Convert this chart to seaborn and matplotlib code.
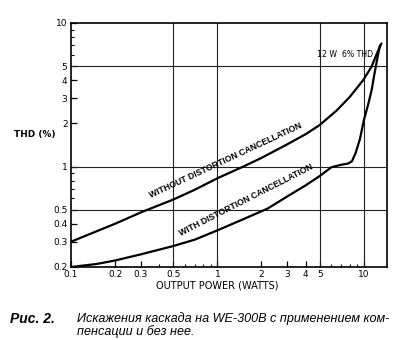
import matplotlib
matplotlib.use("Agg")
import matplotlib.pyplot as plt
import seaborn as sns
import pandas as pd

# ---- data ----
without_x = [0.1, 0.15, 0.2, 0.3, 0.5, 0.7, 1.0, 1.5, 2.0, 3.0, 4.0, 5.0, 6.5, 8.0, 9.9, 11.3, 12.5, 13.2]
without_y = [0.30, 0.355, 0.40, 0.48, 0.59, 0.69, 0.83, 1.0, 1.15, 1.43, 1.68, 1.95, 2.45, 3.05, 4.0, 4.97, 6.4, 7.2]

with_x = [0.1, 0.15, 0.2, 0.3, 0.5, 0.7, 1.0, 1.5, 2.2, 3.0, 4.0, 5.0, 6.0, 7.0, 7.8, 8.3, 8.8,
          9.4, 10.0, 10.7, 11.3, 11.9, 12.5, 12.9]
with_y = [0.20, 0.21, 0.222, 0.245, 0.28, 0.31, 0.36, 0.43, 0.51, 0.62, 0.74, 0.86, 0.99, 1.03, 1.05,
          1.09, 1.25, 1.55, 2.1, 2.7, 3.4, 4.6, 6.0, 7.0]

x_major = [0.1, 0.2, 0.3, 0.5, 1, 2, 3, 4, 5, 10]
x_major_labels = ["0.1", "0.2", "0.3", "0.5", "1", "2", "3", "4", "5", "10"]
x_minor = [0.4, 0.6, 0.7, 0.8, 0.9, 6, 7, 8, 9]
y_major = [0.2, 0.3, 0.4, 0.5, 1, 2, 3, 4, 5, 10]
y_major_labels = ["0.2", "0.3", "0.4", "0.5", "1", "2", "3", "4", "5", "10"]
y_minor = [0.6, 0.7, 0.8, 0.9, 6, 7, 8, 9]
grid_x = [0.5, 1, 5, 10]
grid_y = [0.5, 1, 5]

label_without = "WITHOUT DISTORTION CANCELLATION"
label_with = "WITH DISTORTION CANCELLATION"
note_text = "12 W  6% THD"
x_title = "OUTPUT POWER (WATTS)"
y_title = "THD (%)"
caption_bold = "Рис. 2."
caption_lines = ["Искажения каскада на WE-300B с применением ком-", "пенсации и без нее."]

sns.set_theme(style="white")
plt.rcParams["font.family"] = ["DejaVu Sans"]

df_without = pd.DataFrame({"x": without_x, "y": without_y})
df_with = pd.DataFrame({"x": with_x, "y": with_y})

fig = plt.figure(figsize=(4.0, 3.4), dpi=100)
ax = fig.add_axes([71 / 400, 1 - 267 / 340, 316 / 400, 244 / 340])
ax.set_xscale("log")
ax.set_yscale("log")
ax.set_xlim(0.1, 14.4)
ax.set_ylim(0.2, 10)

for gx in grid_x:
    ax.axvline(gx, color="#222222", lw=0.8, zorder=1)
for gy in grid_y:
    ax.axhline(gy, color="#222222", lw=0.8, zorder=1)

sns.lineplot(data=df_without, x="x", y="y", ax=ax, color="black", lw=1.6, sort=False, zorder=3)
sns.lineplot(data=df_with, x="x", y="y", ax=ax, color="black", lw=1.6, sort=False, zorder=3)

ax.set_xticks(x_major)
ax.set_xticklabels(x_major_labels)
ax.set_xticks(x_minor, minor=True)
ax.set_xticklabels([], minor=True)
ax.set_yticks(y_major)
ax.set_yticklabels(y_major_labels)
ax.set_yticks(y_minor, minor=True)
ax.set_yticklabels([], minor=True)
ax.tick_params(which="major", direction="in", length=4, width=0.9, color="black",
               labelsize=6.5, labelcolor="black")
ax.tick_params(axis="x", which="major", pad=2.5)
ax.tick_params(axis="y", which="major", pad=2.5)
ax.tick_params(which="minor", direction="in", length=2.5, width=0.8, color="black")
ax.tick_params(axis="both", which="both", bottom=True, left=True, top=False, right=False)
for s in ax.spines.values():
    s.set_color("black")
    s.set_linewidth(1.2)
ax.set_xlabel("")
ax.set_ylabel("")

ax.text(1.14, 1.11, label_without, rotation=25, ha="center", va="center",
        fontsize=6.2, fontweight="bold", family=["Liberation Sans"], color="black",
        rotation_mode="anchor", zorder=4)
ax.text(1.57, 0.586, label_with, rotation=27, ha="center", va="center",
        fontsize=6.2, fontweight="bold", family=["Liberation Sans"], color="black",
        rotation_mode="anchor", zorder=4)
ax.text(4.8, 6.0, note_text, ha="left", va="center", fontsize=5.6, color="black", zorder=4)

fig.text(217.5 / 400, 1 - 286 / 340, x_title, ha="center", va="center", fontsize=7, color="black")
fig.text(14 / 400, 1 - 135 / 340, y_title, ha="left", va="center", fontsize=6.4,
         fontweight="bold", color="black")

fig.text(10 / 400, 1 - 319 / 340, caption_bold, ha="left", va="center", fontsize=10,
         fontweight="bold", style="italic", family=["Liberation Sans"], color="black")
fig.text(77 / 400, 1 - 319 / 340, caption_lines[0], ha="left", va="center", fontsize=9.1,
         style="italic", family=["Liberation Sans"], color="black")
fig.text(77 / 400, 1 - 331.5 / 340, caption_lines[1], ha="left", va="center", fontsize=9.1,
         style="italic", family=["Liberation Sans"], color="black")

fig.savefig("out.png", dpi=100, facecolor="white")
